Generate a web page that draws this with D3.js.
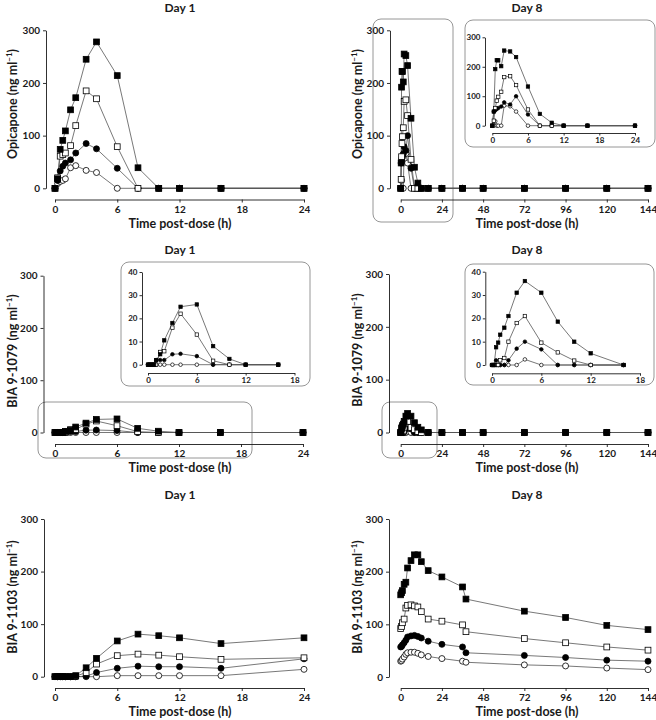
<!DOCTYPE html>
<html><head><meta charset="utf-8">
<script src="https://cdn.jsdelivr.net/npm/d3@7"></script>
<style>
body{margin:0;background:#fff}
svg text{font-family:Lato,"Open Sans",sans-serif;font-weight:700;fill:#1a1a1a}
</style></head><body><svg id="c" width="656" height="720"></svg>
<script>
// ---------- time points (h) ----------
const timesDay1 = [0,0.25,0.5,0.75,1,1.5,2,3,4,6,8,10,12,16,24];
const timesDay8 = [0,0.25,0.5,0.75,1,1.5,2,3,4,6,8,10,12,16,24,36,48,72,96,120,144];
const timesDay8Met = [0,0.5,1,2,3,4,6,8,10,12,16,24,36,38,72,96,120,144];

// ---------- tick labels ----------
const yTicksMain = [0,100,200,300];
const yTicksInset1079 = [0,10,20,30,40];
const xTicksDay1 = [0,6,12,18,24];
const xTicksDay8 = [0,24,48,72,96,120,144];
const xTicksInset18 = [0,6,12,18];

// ---------- series: fs = filled square, os = open square, fc = filled circle, oc = open circle (ng/ml) ----------
const opiD1_fs = [0,18,74,91,109,149,172,245,278,214,39,0,0,0,0];
const opiD1_os = [0,20,61,64,67,81,119,185,170,79,0,0,0,0,0];
const opiD1_fc = [0,15,33,42,48,54,67,85,75,38,0,0,0,0,0];
const opiD1_oc = [0,9,13,15,18,39,43,34,30,0,0,0,0,0,0];

const opiD8_fs = [0,48,192,222,222,202,255,252,233,133,40,10,0,0,0,0,0,0,0,0,0];
const opiD8_os = [0,17,60,85,98,115,165,168,138,55,0,0,0,0,0,0,0,0,0,0,0];
const opiD8_fc = [0,48,52,57,60,65,79,72,100,38,0,0,0,0,0,0,0,0,0,0,0];
const opiD8_oc = [0,0,15,0,0,0,68,66,48,0,0,0,0,0,0,0,0,0,0,0,0];

const b79D1_fs = [0,0,0,0,2,4.5,10.5,18,25,26,8,2.5,0,0,0];
const b79D1_os = [0,0,0,0,0,5.5,5.8,16,22,13,1.7,0,0,0,0];
const b79D1_fc = [0,0,0,0,2,2,2,4.5,4.7,3.7,0,0,0,0,0];
const b79D1_oc = [0,0,0,0,0,0,0,0,0,0,0,0,0,0,0];

const b79D8_fs = [0,0,7.6,9.6,13,16,21,31,36,31,18.6,10,5,0,0,0,0,0,0,0,0];
const b79D8_os = [0,0,0,0,2,3,10,18,21,9.6,5.4,1.9,0,0,0,0,0,0,0,0,0];
const b79D8_fc = [0,0,2,0,0,0,2,7,10,6.7,0,0,0,0,0,0,0,0,0,0,0];
const b79D8_oc = [0,0,0,0,0,0,0,0,2.4,0,0,0,0,0,0,0,0,0,0,0,0];

const b03D1_fs = [0,0,0,0,0,0,2,17,35,68,81,78,74,63,74];
const b03D1_os = [0,0,0,0,0,0,1,8,24,40,43,41,38,33,36];
const b03D1_fc = [0,0,0,0,0,0,0,1,8,16,20,19,19,16,34];
const b03D1_oc = [0,0,0,0,0,0,0,0,0,2,2,2,2,2,14];

const b03D8_fs = [156,160,164,176,180,207,221,232,232,219,202,190,171,148,125,113,98,90];
const b03D8_os = [92,96,103,110,131,136,137,135,133,124,110,106,99,86,73,65,57,51];
const b03D8_fc = [57,58,61,65,70,76,78,79,77,74,68,62,57,46,41,37,32,30];
const b03D8_oc = [30,31,34,38,43,46,47,47,45,42,39,35,30,28,23,21,17,14];

// ---------- drawing ----------
const svg = d3.select("#c");
const LINE = "#555", INK = "#1a1a1a";

function styleAxis(sel, fs) {
  sel.attr("font-family", null).attr("font-size", null);
  sel.select(".domain").attr("stroke", INK).attr("stroke-width", 0.9);
  sel.selectAll(".tick line").attr("stroke", INK).attr("stroke-width", 0.9);
  sel.selectAll(".tick text").style("font-size", fs + "px").attr("fill", INK);
}

function plot(c) {
  const x = d3.scaleLinear().domain(c.xDomain).range(c.xRange);
  const y = d3.scaleLinear().domain(c.yDomain).range(c.yRange);
  const g = svg.append("g");
  g.append("g").attr("transform", `translate(${c.yAxisX},0)`)
    .call(d3.axisLeft(y).tickValues(c.yTicks).tickSize(c.tick).tickSizeOuter(0).tickPadding(c.pad))
    .call(styleAxis, c.font);
  g.append("g").attr("transform", `translate(0,${c.xAxisY})`)
    .call(d3.axisBottom(x).tickValues(c.xTicks).tickSize(c.tick).tickSizeOuter(0).tickPadding(c.pad))
    .call(styleAxis, c.font);
  const idx = c.times.map((t, i) => i).filter(i => c.times[i] <= c.xDomain[1]);
  const kinds = ["oc", "fc", "os", "fs"];
  const ser = {fs: c.s[0], os: c.s[1], fc: c.s[2], oc: c.s[3]};
  kinds.forEach(k => {
    const v = ser[k];
    g.append("path")
      .attr("d", d3.line().x(i => x(c.times[i])).y(i => y(v[i]))(idx))
      .attr("fill", "none").attr("stroke", LINE).attr("stroke-width", 0.8);
  });
  kinds.forEach(k => {
    const v = ser[k];
    const filled = k[0] === "f";
    if (k[1] === "s") {
      g.selectAll(null).data(idx).join("rect")
        .attr("x", i => x(c.times[i]) - c.sq / 2).attr("y", i => y(v[i]) - c.sq / 2)
        .attr("width", c.sq).attr("height", c.sq)
        .attr("fill", filled ? "#000" : "#fff").attr("stroke", "#000").attr("stroke-width", c.sw);
    } else {
      g.selectAll(null).data(idx).join("circle")
        .attr("cx", i => x(c.times[i])).attr("cy", i => y(v[i])).attr("r", c.r)
        .attr("fill", filled ? "#000" : "#fff").attr("stroke", "#000").attr("stroke-width", c.sw);
    }
  });
}

const MAIN = {tick: 3, pad: 3, font: 10, sq: 5.8, r: 3, sw: 0.8};
const INSET = {tick: 2.5, pad: 2, font: 8, sq: 3.4, r: 1.8, sw: 0.7};

function text(x, y, s, size) {
  svg.append("text").attr("x", x).attr("y", y).attr("text-anchor", "middle")
    .style("font-size", size + "px").text(s);
}
function yLabel(x, y, name) {
  const t = svg.append("text").attr("transform", `translate(${x},${y}) rotate(-90)`)
    .attr("text-anchor", "middle").style("font-size", "12.5px");
  t.append("tspan").text(name + " (ng ml");
  t.append("tspan").attr("dy", -5).style("font-size", "8px").text("\u22121");
  t.append("tspan").attr("dy", 5).text(")");
}
function box(x, y, w, h) {
  svg.append("rect").attr("x", x).attr("y", y).attr("width", w).attr("height", h)
    .attr("rx", 8).attr("fill", "none").attr("stroke", "#8a8a8a").attr("stroke-width", 0.9);
}

// Row 1 : Opicapone
text(180, 12, "Day 1", 12); text(527, 12, "Day 8", 12);
yLabel(17, 104, "Opicapone"); yLabel(362, 104, "Opicapone");
text(180, 227.5, "Time post-dose (h)", 12.5); text(527, 227.5, "Time post-dose (h)", 12.5);
plot({...MAIN, times: timesDay1, s: [opiD1_fs, opiD1_os, opiD1_fc, opiD1_oc],
  xDomain: [0, 24], xRange: [55, 304], yDomain: [0, 300], yRange: [188.3, 30.3],
  yAxisX: 46, xAxisY: 199.5, xTicks: xTicksDay1, yTicks: yTicksMain});
box(373, 19, 80, 203);
plot({...MAIN, times: timesDay8, s: [opiD8_fs, opiD8_os, opiD8_fc, opiD8_oc],
  xDomain: [0, 144], xRange: [400.7, 648], yDomain: [0, 300], yRange: [188.3, 30.3],
  yAxisX: 390, xAxisY: 199.5, xTicks: xTicksDay8, yTicks: yTicksMain});
box(465, 20, 190, 127);
plot({...INSET, times: timesDay8, s: [opiD8_fs, opiD8_os, opiD8_fc, opiD8_oc],
  xDomain: [0, 24], xRange: [492.3, 635], yDomain: [0, 300], yRange: [125.7, 37.3],
  yAxisX: 485, xAxisY: 133, xTicks: xTicksDay1, yTicks: yTicksMain});

// Row 2 : BIA 9-1079
text(180, 254, "Day 1", 12); text(527, 254, "Day 8", 12);
yLabel(17, 351, "BIA 9-1079"); yLabel(362, 350, "BIA 9-1079");
text(180, 472, "Time post-dose (h)", 12.5); text(527, 472, "Time post-dose (h)", 12.5);
box(38, 402, 214, 56);
plot({...MAIN, times: timesDay1, s: [b79D1_fs, b79D1_os, b79D1_fc, b79D1_oc],
  xDomain: [0, 24], xRange: [55, 303], yDomain: [0, 300], yRange: [432.5, 275.7],
  yAxisX: 43.5, xAxisY: 444, xTicks: xTicksDay1, yTicks: yTicksMain});
box(121, 262, 189, 124);
plot({...INSET, times: timesDay1, s: [b79D1_fs, b79D1_os, b79D1_fc, b79D1_oc],
  xDomain: [0, 18], xRange: [148, 294.5], yDomain: [0, 40], yRange: [364.7, 272],
  yAxisX: 142, xAxisY: 373, xTicks: xTicksInset18, yTicks: yTicksInset1079});
box(382, 402, 55, 56);
plot({...MAIN, times: timesDay8, s: [b79D8_fs, b79D8_os, b79D8_fc, b79D8_oc],
  xDomain: [0, 144], xRange: [400.7, 648], yDomain: [0, 300], yRange: [432.5, 274],
  yAxisX: 389, xAxisY: 444, xTicks: xTicksDay8, yTicks: yTicksMain});
box(465, 264, 189, 121);
plot({...INSET, times: timesDay8, s: [b79D8_fs, b79D8_os, b79D8_fc, b79D8_oc],
  xDomain: [0, 18], xRange: [492, 640], yDomain: [0, 40], yRange: [365, 271.7],
  yAxisX: 485.3, xAxisY: 373.3, xTicks: xTicksInset18, yTicks: yTicksInset1079});

// Row 3 : BIA 9-1103
text(180, 499, "Day 1", 12); text(527, 499, "Day 8", 12);
yLabel(17, 597, "BIA 9-1103"); yLabel(362, 597, "BIA 9-1103");
text(180, 716, "Time post-dose (h)", 12.5); text(527, 716, "Time post-dose (h)", 12.5);
plot({...MAIN, times: timesDay1, s: [b03D1_fs, b03D1_os, b03D1_fc, b03D1_oc],
  xDomain: [0, 24], xRange: [55, 304], yDomain: [0, 300], yRange: [676.7, 519],
  yAxisX: 44, xAxisY: 688, xTicks: xTicksDay1, yTicks: yTicksMain});
plot({...MAIN, times: timesDay8Met, s: [b03D8_fs, b03D8_os, b03D8_fc, b03D8_oc],
  xDomain: [0, 144], xRange: [400.7, 648], yDomain: [0, 300], yRange: [677, 519],
  yAxisX: 389, xAxisY: 688, xTicks: xTicksDay8, yTicks: yTicksMain});
</script></body></html>
